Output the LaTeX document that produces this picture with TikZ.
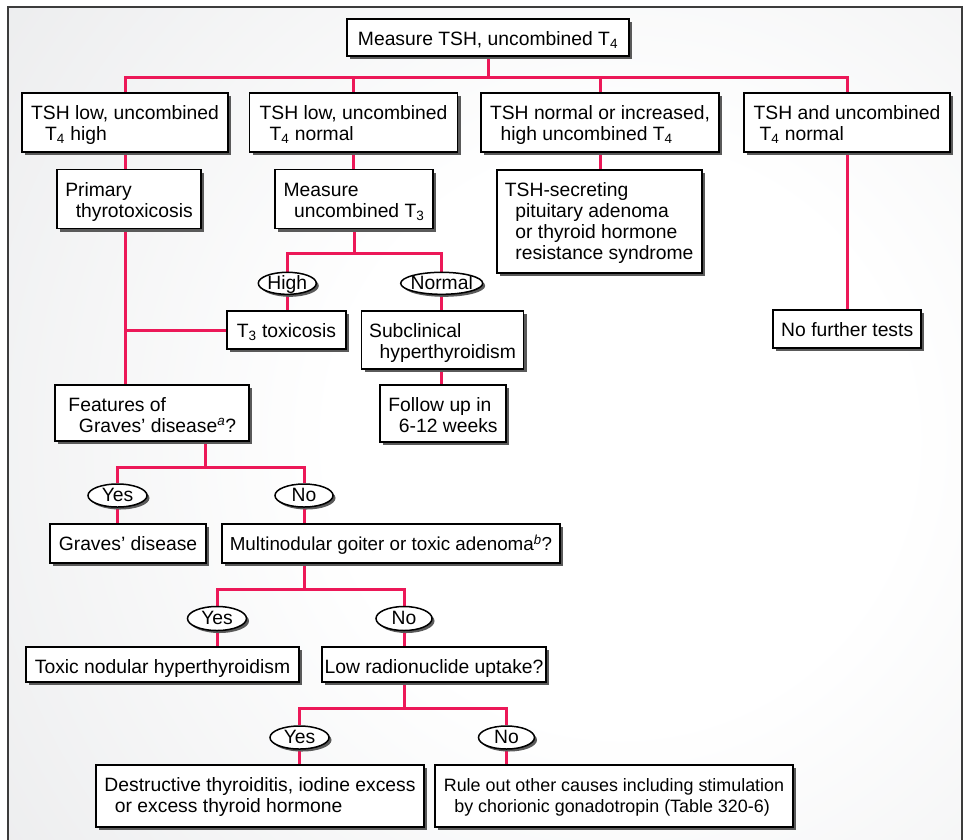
\documentclass[tikz,border=0pt]{standalone}
\usepackage{fontspec}
\setmainfont{Liberation Sans}
\usetikzlibrary{shapes.geometric,shadows}

\definecolor{linkred}{RGB}{236,24,88}
\definecolor{edgegray}{RGB}{227,228,230}
\definecolor{framegray}{RGB}{60,60,60}
\definecolor{shadowgray}{RGB}{90,90,90}

\pgfdeclarelayer{bg}
\pgfdeclarelayer{links}
\pgfsetlayers{bg,links,main}

% soft white glow in the middle of the panel
\pgfdeclareradialshading{paperglow}{\pgfpoint{0bp}{0bp}}{%
  color(0bp)=(white); color(9bp)=(white);
  color(31bp)=(edgegray); color(50bp)=(edgegray)}

% several left-aligned lines, baseline on the first one
\newcommand{\boxlines}[1]{\begin{tabular}[t]{@{}l@{}}#1\end{tabular}}
\newcommand{\subind}{\hspace*{10.5pt}}
\newcommand{\ans}[1]{\makebox[0pt]{#1}}

\tikzset{
  every node/.style={font=\fontsize{19.3}{21}\selectfont},
  box/.style={rectangle, draw=black, line width=1.8pt, fill=white,
    inner xsep=0pt, inner ysep=6pt, text height=20.5pt,
    drop shadow={shadow xshift=3pt, shadow yshift=-3pt,
      fill=shadowgray, opacity=1}},
  answer/.style={ellipse, draw=black, line width=1.5pt, fill=white,
    inner sep=0pt, text height=12pt, text depth=0pt,
    drop shadow={shadow xshift=2.5pt, shadow yshift=-2.5pt,
      fill=shadowgray, opacity=1}},
  link/.style={draw=linkred, line width=3pt},
}

\begin{document}
\begin{tikzpicture}[x=1pt, y=-1pt]
\useasboundingbox (0,0) rectangle (963,839);

% panel background and frame
\begin{pgfonlayer}{bg}
  \begin{scope}
    \clip (8.3,6.7) rectangle (961.7,845);
    \shade[shading=paperglow] (620,440) circle (800pt);
  \end{scope}
  \draw[framegray, line width=2.3pt] (8.3,845) -- (8.3,6.7) -- (961.7,6.7) -- (961.7,845);
\end{pgfonlayer}

% first level
\node[box, minimum width=282pt, text depth=4.5pt] (top) at (488,37.5)
  {Measure TSH, uncombined T\textsubscript{4}};

\node[box, minimum width=206pt, text depth=26.5pt] (b1) at (125,122.5)
  {\boxlines{TSH low, uncombined\\\hspace*{14pt}T\textsubscript{4} high}};
\node[box, minimum width=208pt, text depth=26.5pt] (b2) at (353.5,122.5)
  {\boxlines{TSH low, uncombined\\\hspace*{10pt}T\textsubscript{4} normal}};
\node[box, minimum width=238pt, text depth=26.5pt] (b3) at (600,122.5)
  {\boxlines{TSH normal or increased,\\\subind high uncombined T\textsubscript{4}}};
\node[box, minimum width=206pt, text depth=26.5pt] (b4) at (847,122.5)
  {\boxlines{TSH and uncombined\\\hspace*{6pt}T\textsubscript{4} normal}};

% second level
\node[box, minimum width=144pt, text depth=26.5pt] (prim) at (129,199)
  {\boxlines{Primary\\\subind thyrotoxicosis}};
\node[box, minimum width=158pt, text depth=26.5pt] (meas3) at (354,199)
  {\boxlines{Measure\\\subind uncombined T\textsubscript{3}}};
\node[box, minimum width=205pt, text depth=70.5pt] (tshsec) at (599.2,221.4)
  {\boxlines{TSH-secreting\\\subind pituitary adenoma\\\subind or thyroid hormone\\\subind resistance syndrome}};

\node[answer, minimum width=58pt, minimum height=22pt] (high) at (287.3,283.3) {\ans{High}};
\node[answer, minimum width=82pt, minimum height=22pt] (normal) at (441.7,283.3) {\ans{Normal}};

\node[box, minimum width=118.5pt, text depth=5.5pt] (t3tox) at (286.5,330)
  {T\textsubscript{3} toxicosis};
\node[box, minimum width=162pt, text depth=26.1pt] (subcl) at (442.5,340)
  {\boxlines{Subclinical\\\subind hyperthyroidism}};
\node[box, minimum width=126pt, text depth=24.5pt] (follow) at (443,413.4)
  {\boxlines{Follow up in\\\subind 6-12 weeks}};
\node[box, minimum width=148pt, text depth=5.5pt] (nft) at (847.2,329.2)
  {No further tests};

% Graves branch
\node[box, minimum width=194pt, text depth=23.5pt] (feat) at (152.3,413)
  {\boxlines{Features of\\\subind Graves' disease\textsuperscript{\itshape a}?}};
\node[answer, minimum width=59pt, minimum height=23pt] (yes1) at (117.5,495.5) {\ans{Yes}};
\node[answer, minimum width=58pt, minimum height=23pt] (no1) at (304,495.5) {\ans{No}};
\node[box, minimum width=155.5pt, text depth=6.5pt] (graves) at (128,543.7)
  {Graves' disease};
\node[box, minimum width=338pt, text depth=6.5pt, font=\fontsize{18.8}{21}\selectfont] (multi) at (391,543.7)
  {Multinodular goiter or toxic adenoma\textsuperscript{\itshape b}?};

\node[answer, minimum width=59pt, minimum height=24pt] (yes2) at (217,618.5) {\ans{Yes}};
\node[answer, minimum width=56pt, minimum height=24pt] (no2) at (404,618.5) {\ans{No}};
\node[box, minimum width=273.6pt, text depth=3.1pt] (toxnod) at (162.5,664.5)
  {Toxic nodular hyperthyroidism};
\node[box, minimum width=223.7pt, text depth=3.1pt] (lowrad) at (434,664.5)
  {Low radionuclide uptake?};

\node[answer, minimum width=59pt, minimum height=23pt] (yes3) at (299.5,737.5) {\ans{Yes}};
\node[answer, minimum width=56pt, minimum height=23pt] (no3) at (506.5,737.5) {\ans{No}};
\node[box, minimum width=328.6pt, text depth=29.8pt] (destr) at (260,796.2)
  {\boxlines{Destructive thyroiditis, iodine excess\\\subind or excess thyroid hormone}};
\node[box, minimum width=357.7pt, text depth=29.8pt, font=\fontsize{17.9}{21}\selectfont] (rule) at (614,796.2)
  {\boxlines{Rule out other causes including stimulation\\\subind by chorionic gonadotropin (Table 320-6)}};

% connectors, drawn under the boxes
\begin{pgfonlayer}{links}
  \coordinate (j0) at (488,77);
  \draw[link] (top) -- (j0) -| (b1);
  \draw[link] (j0) -| (b2);
  \draw[link] (j0) -| (b3);
  \draw[link] (j0) -| (b4);

  \draw[link] (b1) -- (b1 |- feat.north);
  \draw[link] (b1 |- t3tox) -- (t3tox);

  \draw[link] (b2) -- (b2 |- meas3);
  \coordinate (j2) at (354,253);
  \draw[link] (meas3) -- (j2) -| (high);
  \draw[link] (j2) -| (normal);
  \draw[link] (high) -- (high |- t3tox);
  \draw[link] (normal) -- (normal |- follow);

  \draw[link] (b3) -- (b3 |- tshsec);
  \draw[link] (b4) -- (b4 |- nft);

  \coordinate (j3) at (205,467);
  \draw[link] (j3 |- feat) -- (j3) -| (yes1);
  \draw[link] (j3) -| (no1);
  \draw[link] (yes1) -- (yes1 |- graves);
  \draw[link] (no1) -- (no1 |- multi);

  \coordinate (j4) at (304,589);
  \draw[link] (j4 |- multi) -- (j4) -| (yes2);
  \draw[link] (j4) -| (no2);
  \draw[link] (yes2) -- (yes2 |- toxnod);
  \draw[link] (no2) -- (no2 |- lowrad);

  \coordinate (j5) at (404,708);
  \draw[link] (j5 |- lowrad) -- (j5) -| (yes3);
  \draw[link] (j5) -| (no3);
  \draw[link] (yes3) -- (yes3 |- destr);
  \draw[link] (no3) -- (no3 |- rule);
\end{pgfonlayer}
\end{tikzpicture}
\end{document}
